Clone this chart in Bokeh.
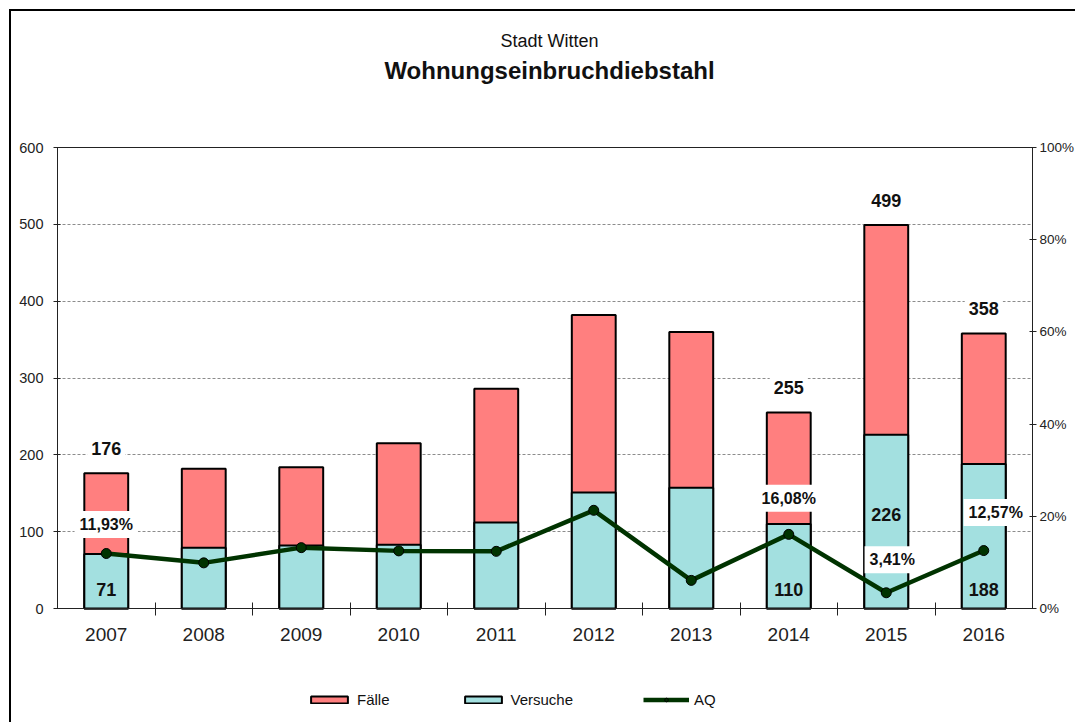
from bokeh.plotting import figure
from bokeh.models import (ColumnDataSource, Range1d, LinearAxis, FixedTicker,
                          CustomJSTickFormatter, NumeralTickFormatter, Label,
                          Legend, LegendItem, Grid)
from bokeh.embed import file_html
from bokeh.resources import INLINE

# ---------------- data ----------------
years = ["2007", "2008", "2009", "2010", "2011", "2012", "2013", "2014", "2015", "2016"]
faelle = [176, 182, 184, 215, 286, 382, 360, 255, 499, 358]
versuche = [71, 79, 82, 83, 112, 151, 157, 110, 226, 188]
aq = [11.93, 9.9, 13.2, 12.5, 12.4, 21.3, 6.1, 16.08, 3.41, 12.57]

total_labels = {"2007": "176", "2014": "255", "2015": "499", "2016": "358"}
versuche_labels = {"2007": "71", "2014": "110", "2015": "226", "2016": "188"}
aq_labels = {"2007": "11,93%", "2014": "16,08%", "2015": "3,41%", "2016": "12,57%"}

left_ticks = [0, 100, 200, 300, 400, 500, 600]
right_ticks = [0, 0.2, 0.4, 0.6, 0.8, 1.0]

title_top = "Stadt Witten"
title_main = "Wohnungseinbruchdiebstahl"

FONT = "Liberation Sans"
RED = "#FF7F7F"
CYAN = "#A3E0E0"
GREEN = "#003300"

# ---------------- layout (pixels) ----------------
OFF = 11                 # canvas origin on the page (margin + border)
W, H = 1077 - OFF, 724 - OFF
PL, PR, PT, PB = 57, 1032, 147, 608   # plotting area on the page
n = len(years)
YMAX = 600

xs_per_px = n / (PR - PL)
x0 = -0.5 - (PL - OFF) * xs_per_px
x1 = x0 + W * xs_per_px
ys_per_px = YMAX / (PB - PT)
y1 = YMAX + (PT - OFF) * ys_per_px
y0 = y1 - H * ys_per_px
ps_per_px = 1.0 / (PB - PT)
p1 = 1.0 + (PT - OFF) * ps_per_px
p0 = p1 - H * ps_per_px

xs = list(range(n))
source = ColumnDataSource(dict(x=xs, faelle=faelle, versuche=versuche,
                               aq=[v / 100 for v in aq]))

p = figure(width=W, height=H, output_backend="svg", toolbar_location=None,
           x_range=Range1d(x0, x1), y_range=Range1d(y0, y1),
           min_border=0, background_fill_color="white",
           border_fill_color="white", title=None, x_axis_location=None,
           y_axis_location=None)
p.styles = {"border-left": "2px solid #000", "border-top": "2px solid #000",
            "margin-left": "9px", "margin-top": "9px"}
p.outline_line_color = None
p.grid.visible = False
p.extra_y_ranges = {"pct": Range1d(p0, p1)}

# grid lines (dashed) and top frame line
g = Grid(dimension=1, ticker=FixedTicker(ticks=left_ticks[1:-1]),
         cross_bounds=(-0.5, n - 0.5), grid_line_color="#8c8c8c",
         grid_line_dash="3 2", grid_line_width=1)
p.add_layout(g)
gt = Grid(dimension=1, ticker=FixedTicker(ticks=[YMAX]),
          cross_bounds=(-0.5, n - 0.5), grid_line_color="#222222",
          grid_line_width=1)
p.add_layout(gt)

# bars
r_f = p.vbar(x="x", top="faelle", width=0.45, source=source, fill_color=RED,
             line_color="black", line_width=2)
r_v = p.vbar(x="x", top="versuche", width=0.45, source=source, fill_color=CYAN,
             line_color="black", line_width=2)
# AQ line
r_l = p.line(x="x", y="aq", source=source, y_range_name="pct", line_color=GREEN,
             line_width=4.5)
r_c = p.scatter(x="x", y="aq", source=source, y_range_name="pct", size=10,
                fill_color=GREEN, line_color="black", line_width=1)

# x axis
xa = LinearAxis(fixed_location=0, bounds=(-0.5, n - 0.5),
                ticker=FixedTicker(ticks=xs, minor_ticks=[i + 0.5 for i in xs[:-1]]),
                formatter=CustomJSTickFormatter(args=dict(labels=years),
                                                code="return labels[Math.round(tick)] || ''"))
xa.major_tick_out = 0
xa.major_tick_in = 0
xa.minor_tick_in = 6
xa.minor_tick_out = 7
xa.minor_tick_line_color = "#222222"
xa.axis_line_color = "#222222"
xa.major_label_standoff = 12
xa.major_label_text_font = FONT
xa.major_label_text_font_size = "19px"
xa.major_label_text_color = "#222222"
p.add_layout(xa, "below")

# left axis
ya = LinearAxis(fixed_location=-0.5, bounds=(0, YMAX), ticker=FixedTicker(ticks=left_ticks))
ya.major_tick_in = 3
ya.major_tick_out = 4
ya.minor_tick_line_color = None
ya.axis_line_color = "#222222"
ya.major_tick_line_color = "#222222"
ya.major_label_standoff = 10
ya.major_label_text_font = FONT
ya.major_label_text_font_size = "14.5px"
ya.major_label_text_color = "#222222"
p.add_layout(ya, "left")

# right axis
ra = LinearAxis(y_range_name="pct", fixed_location=n - 0.5, bounds=(0, 1),
                ticker=FixedTicker(ticks=right_ticks),
                formatter=NumeralTickFormatter(format="0%"))
ra.major_tick_in = 3
ra.major_tick_out = 4
ra.minor_tick_line_color = None
ra.axis_line_color = "#222222"
ra.major_tick_line_color = "#222222"
ra.major_label_standoff = 3
ra.major_label_text_font = FONT
ra.major_label_text_font_size = "13.5px"
ra.major_label_text_color = "#222222"
p.add_layout(ra, "right")

# titles
tx = x0 + (549 - OFF) * xs_per_px
p.add_layout(Label(x=tx, y=y1 - (40 - OFF) * ys_per_px, text=title_top,
                   text_align="center", text_baseline="middle", text_font=FONT,
                   text_font_size="18px", text_color="#111111"))
p.add_layout(Label(x=tx, y=y1 - (70 - OFF) * ys_per_px, text=title_main,
                   text_align="center", text_baseline="middle", text_font=FONT,
                   text_font_size="24px", text_font_style="bold",
                   text_color="#111111"))

# data labels
versuche_offsets = {"2015": 94}
aq_xoff = {"2015": 6, "2016": 12}
aq_yoff = {"2007": 29, "2014": 36, "2015": 33, "2016": 38}
for i, yr in enumerate(years):
    if yr in total_labels:
        p.add_layout(Label(x=i, y=faelle[i], y_offset=25, text=total_labels[yr],
                           text_align="center", text_baseline="middle", text_font=FONT,
                           text_font_size="18px", text_font_style="bold",
                           text_color="#111111", background_fill_color="white",
                           padding=4))
    if yr in versuche_labels:
        p.add_layout(Label(x=i, y=0, y_offset=versuche_offsets.get(yr, 19),
                           text=versuche_labels[yr], text_align="center",
                           text_baseline="middle", text_font=FONT,
                           text_font_size="18px", text_font_style="bold",
                           text_color="#111111"))
    if yr in aq_labels:
        p.add_layout(Label(x=i, y=aq[i] / 100, y_range_name="pct",
                           x_offset=aq_xoff.get(yr, 0), y_offset=aq_yoff[yr],
                           text=aq_labels[yr], text_align="center",
                           text_baseline="middle", text_font=FONT,
                           text_font_size="16px", text_font_style="bold",
                           text_color="#111111", background_fill_color="white",
                           padding=5))

# legend
legend = Legend(items=[LegendItem(label="Fälle", renderers=[r_f]),
                       LegendItem(label="Versuche", renderers=[r_v]),
                       LegendItem(label="AQ", renderers=[r_l, r_c])],
                orientation="horizontal", location=(306 - OFF, 16),
                glyph_width=46, glyph_height=9, spacing=70, label_standoff=5,
                padding=0, margin=0, border_line_color=None,
                background_fill_alpha=0, label_text_font=FONT,
                label_text_font_size="15px", label_text_color="#111111")
p.add_layout(legend, "center")

open("out.html", "w").write(file_html(p, INLINE))
